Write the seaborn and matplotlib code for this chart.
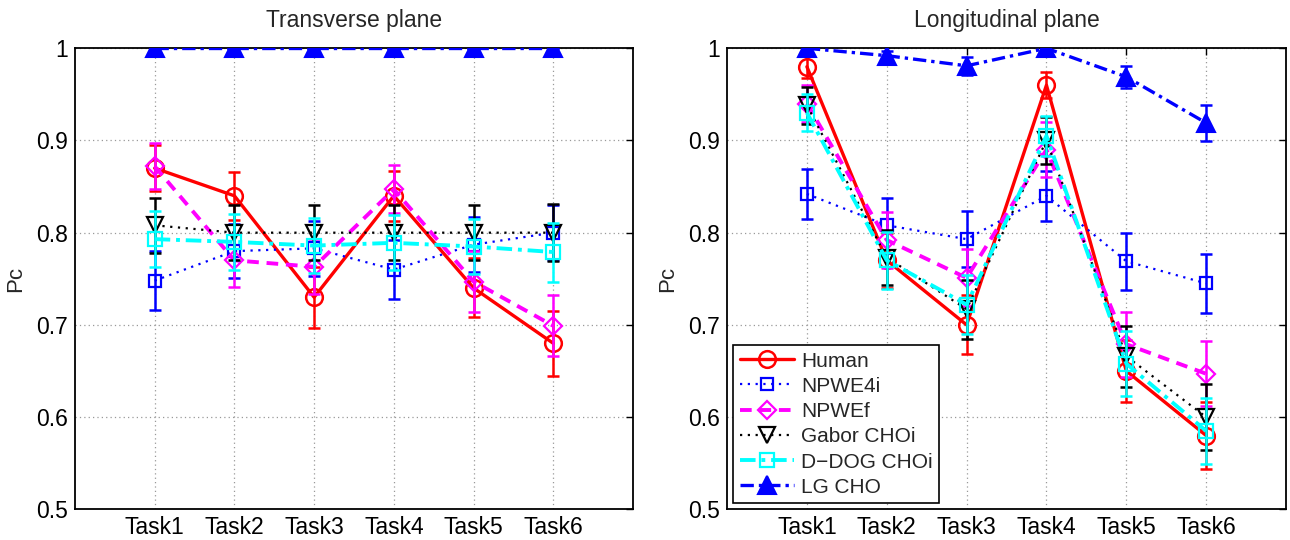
import numpy as np
import pandas as pd
import matplotlib
matplotlib.use("Agg")
import matplotlib.pyplot as plt
import seaborn as sns

tasks = ["Task1", "Task2", "Task3", "Task4", "Task5", "Task6"]
series_names = ["Human", "NPWE4i", "NPWEf", "Gabor CHOi", "D\u2212DOG CHOi", "LG CHO"]

# Transverse plane
trans_human = [0.870, 0.840, 0.730, 0.840, 0.740, 0.680]
trans_human_err = [0.025, 0.026, 0.033, 0.027, 0.032, 0.035]
trans_npwe4i = [0.748, 0.780, 0.783, 0.760, 0.787, 0.800]
trans_npwe4i_err = [0.032, 0.029, 0.030, 0.032, 0.030, 0.030]
trans_npwef = [0.872, 0.770, 0.763, 0.847, 0.747, 0.699]
trans_npwef_err = [0.025, 0.029, 0.030, 0.026, 0.033, 0.033]
trans_gabor = [0.808, 0.800, 0.800, 0.800, 0.800, 0.800]
trans_gabor_err = [0.030, 0.030, 0.030, 0.030, 0.030, 0.031]
trans_ddog = [0.793, 0.790, 0.786, 0.789, 0.785, 0.779]
trans_ddog_err = [0.030, 0.030, 0.030, 0.030, 0.030, 0.032]
trans_lg = [1.000, 1.000, 1.000, 1.000, 1.000, 1.000]
trans_lg_err = [0.0, 0.0, 0.0, 0.0, 0.0, 0.0]

# Longitudinal plane
long_human = [0.980, 0.770, 0.700, 0.960, 0.650, 0.580]
long_human_err = [0.012, 0.030, 0.032, 0.014, 0.034, 0.036]
long_npwe4i = [0.842, 0.808, 0.793, 0.840, 0.769, 0.745]
long_npwe4i_err = [0.027, 0.030, 0.030, 0.027, 0.031, 0.032]
long_npwef = [0.940, 0.792, 0.751, 0.890, 0.679, 0.647]
long_npwef_err = [0.020, 0.030, 0.031, 0.030, 0.035, 0.035]
long_gabor = [0.938, 0.773, 0.717, 0.900, 0.666, 0.600]
long_gabor_err = [0.020, 0.030, 0.032, 0.025, 0.033, 0.036]
long_ddog = [0.930, 0.770, 0.722, 0.905, 0.658, 0.585]
long_ddog_err = [0.020, 0.031, 0.032, 0.022, 0.035, 0.036]
long_lg = [1.000, 0.992, 0.981, 1.000, 0.969, 0.919]
long_lg_err = [0.004, 0.005, 0.010, 0.003, 0.012, 0.020]

sns.set_style("white")
plt.rcParams["font.family"] = ["Liberation Sans", "DejaVu Sans"]

styles = [
    dict(color="#ff0000", ls="-", marker="o", lw=2.4, ms=12, mfc="none", mew=1.8),
    dict(color="#0000ff", ls=(0, (1, 2.5)), marker="s", lw=1.6, ms=9, mfc="none", mew=1.6),
    dict(color="#ff00ff", ls=(0, (3, 2)), marker="D", lw=2.8, ms=9, mfc="none", mew=1.6),
    dict(color="#000000", ls=(0, (1, 2.5)), marker="v", lw=1.6, ms=12, mfc="none", mew=1.6),
    dict(color="#00ffff", ls=(0, (4, 1.5, 1, 1.5)), marker="s", lw=2.8, ms=10, mfc="none", mew=1.6),
    dict(color="#0000ff", ls=(0, (4, 1.5, 1, 1.5)), marker="^", lw=2.4, ms=13, mfc="#0000ff", mew=1.5),
]

panels = [
    ("Transverse plane",
     [trans_human, trans_npwe4i, trans_npwef, trans_gabor, trans_ddog, trans_lg],
     [trans_human_err, trans_npwe4i_err, trans_npwef_err, trans_gabor_err, trans_ddog_err, trans_lg_err]),
    ("Longitudinal plane",
     [long_human, long_npwe4i, long_npwef, long_gabor, long_ddog, long_lg],
     [long_human_err, long_npwe4i_err, long_npwef_err, long_gabor_err, long_ddog_err, long_lg_err]),
]

fig = plt.figure(figsize=(12.9, 5.4), dpi=100)
ax_rects = [[0.0581, 0.0569, 0.4326, 0.8537], [0.5636, 0.0569, 0.4333, 0.8537]]
xpos = np.arange(1, len(tasks) + 1)

for pi, (title, vals, errs) in enumerate(panels):
    ax = fig.add_axes(ax_rects[pi])
    for si, name in enumerate(series_names):
        st = styles[si]
        df = pd.DataFrame({"x": xpos, "y": vals[si]})
        ax.errorbar(xpos, vals[si], yerr=errs[si], fmt="none", ecolor=st["color"],
                    elinewidth=1.8, capsize=4, capthick=1.8, zorder=2 + si)
        sns.lineplot(data=df, x="x", y="y", ax=ax, color=st["color"], linestyle=st["ls"],
                     linewidth=st["lw"], marker=st["marker"], markersize=st["ms"],
                     markerfacecolor=st["mfc"], markeredgecolor=st["color"],
                     markeredgewidth=st["mew"], label=name, zorder=3 + si, legend=False)
    ax.set_xlim(0, 7)
    ax.set_ylim(0.5, 1.0)
    ax.set_xticks(xpos)
    ax.set_xticklabels(tasks)
    ax.set_yticks([0.5, 0.6, 0.7, 0.8, 0.9, 1.0])
    ax.set_yticklabels(["0.5", "0.6", "0.7", "0.8", "0.9", "1"])
    ax.set_xlabel("")
    ax.set_ylabel("Pc", fontsize=16, labelpad=7)
    ax.set_title(title, fontsize=16.5, pad=15)
    ax.grid(True, color="#999999", linestyle=(0, (1, 2.5)), linewidth=0.9)
    ax.tick_params(axis="both", direction="in", top=True, right=True, length=5,
                   width=1, labelsize=16.5, colors="black", pad=5)
    for sp in ax.spines.values():
        sp.set_visible(True)
        sp.set_color("black")
        sp.set_linewidth(1.3)
    if pi == 1:
        leg = ax.legend(loc="lower left", fontsize=15, frameon=True, fancybox=False,
                        edgecolor="black", framealpha=1, handlelength=2.6,
                        borderaxespad=0.3, labelspacing=0.3, handletextpad=0.35,
                        borderpad=0.3)
        leg.get_frame().set_linewidth(1.2)

fig.savefig("out.png", dpi=100)
